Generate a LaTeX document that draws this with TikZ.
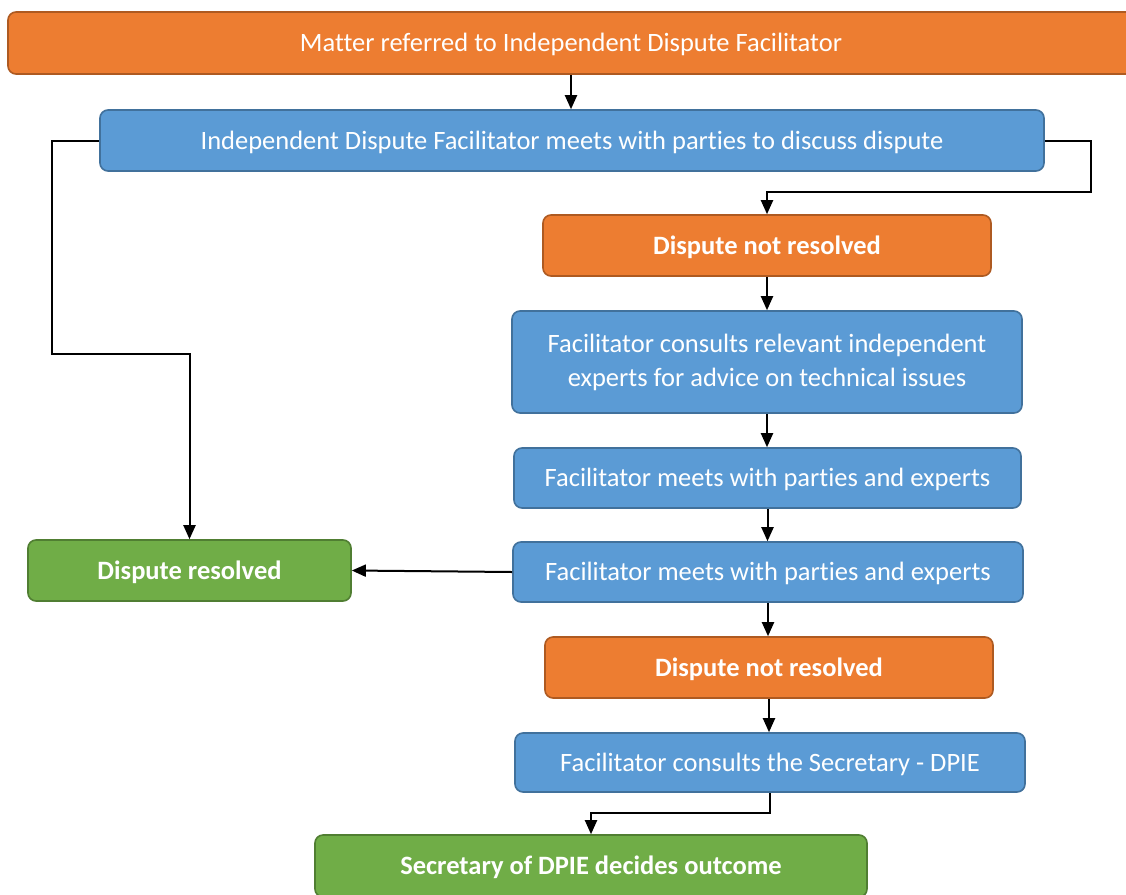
\documentclass[tikz,border=0pt]{standalone}
\usepackage{fontspec}
\setmainfont{Carlito}[Ligatures={NoCommon}]
\usetikzlibrary{arrows.meta}
\definecolor{oFill}{HTML}{ED7D31}
\definecolor{oLine}{HTML}{AE5A21}
\definecolor{bFill}{HTML}{5B9BD5}
\definecolor{bLine}{HTML}{41719C}
\definecolor{gFill}{HTML}{70AD47}
\definecolor{gLine}{HTML}{507E32}
\tikzset{
  boxbase/.style={rounded corners=8pt, line width=1.6pt, text=white, align=center,
    font=\fontsize{26.5}{34}\selectfont, inner sep=0pt},
  oneline/.style={text height=23pt, text depth=6pt},
  obox/.style={boxbase, fill=oFill, draw=oLine},
  bbox/.style={boxbase, fill=bFill, draw=bLine},
  gbox/.style={boxbase, fill=gFill, draw=gLine},
  boldtext/.style={font=\fontsize{26.5}{34}\selectfont\bfseries},
  arr/.style={line width=2pt, -{Triangle[length=14pt,width=12pt]}},
}
\begin{document}
\begin{tikzpicture}[x=1pt,y=-1pt]
\useasboundingbox (0,0) rectangle (1126,894);
\clip (0,0) rectangle (1126,894);
\node[obox, oneline, minimum width=1126pt, minimum height=62pt] (n1) at (571,43) {Matter referred to Independent Dispute Facilitator};
\node[bbox, oneline, minimum width=944pt, minimum height=61pt] (b1) at (572,140.5) {Independent Dispute Facilitator meets with parties to discuss dispute};
\node[obox, oneline, minimum width=448pt, minimum height=61pt, boldtext] (o3) at (767,245.5) {Dispute not resolved};
\node[bbox, minimum width=510pt, minimum height=102pt] (b4) at (767,362) {Facilitator consults relevant independent\\experts for advice on technical issues};
\node[bbox, oneline, minimum width=507pt, minimum height=60pt] (b5) at (767.5,478) {Facilitator meets with parties and experts};
\node[bbox, oneline, minimum width=510pt, minimum height=60pt] (b6) at (768,572) {Facilitator meets with parties and experts};
\node[gbox, oneline, minimum width=323pt, minimum height=61pt, boldtext] (res) at (189.5,570.5) {Dispute resolved};
\node[obox, oneline, minimum width=448pt, minimum height=61pt, boldtext] (o8) at (769,667.5) {Dispute not resolved};
\node[bbox, oneline, minimum width=510pt, minimum height=59pt] (b9) at (770,762.5) {Facilitator consults the Secretary - DPIE};
\node[gbox, oneline, minimum width=552pt, minimum height=62pt, boldtext] (g10) at (591,866) {Secretary of DPIE decides outcome};

\draw[arr] (n1.south) -- (n1.south |- b1.north);
\draw[arr] (b1.west) -- (52,140.5) -- (52,354) -| (res.north);
\draw[arr] (b1.east) -- (1091,140.5) -- (1091,192) -| (o3.north);
\draw[arr] (o3.south) -- (b4.north);
\draw[arr] (b4.south) -- (b4.south |- b5.north);
\draw[arr] (b5.south) -- (b5.south |- b6.north);
\draw[arr] (b6.west) -- (res.east);
\draw[arr] (b6.south) -- (b6.south |- o8.north);
\draw[arr] (o8.south) -- (o8.south |- b9.north);
\draw[arr] (b9.south) -- (770,813) -| (g10.north);
\end{tikzpicture}
\end{document}
